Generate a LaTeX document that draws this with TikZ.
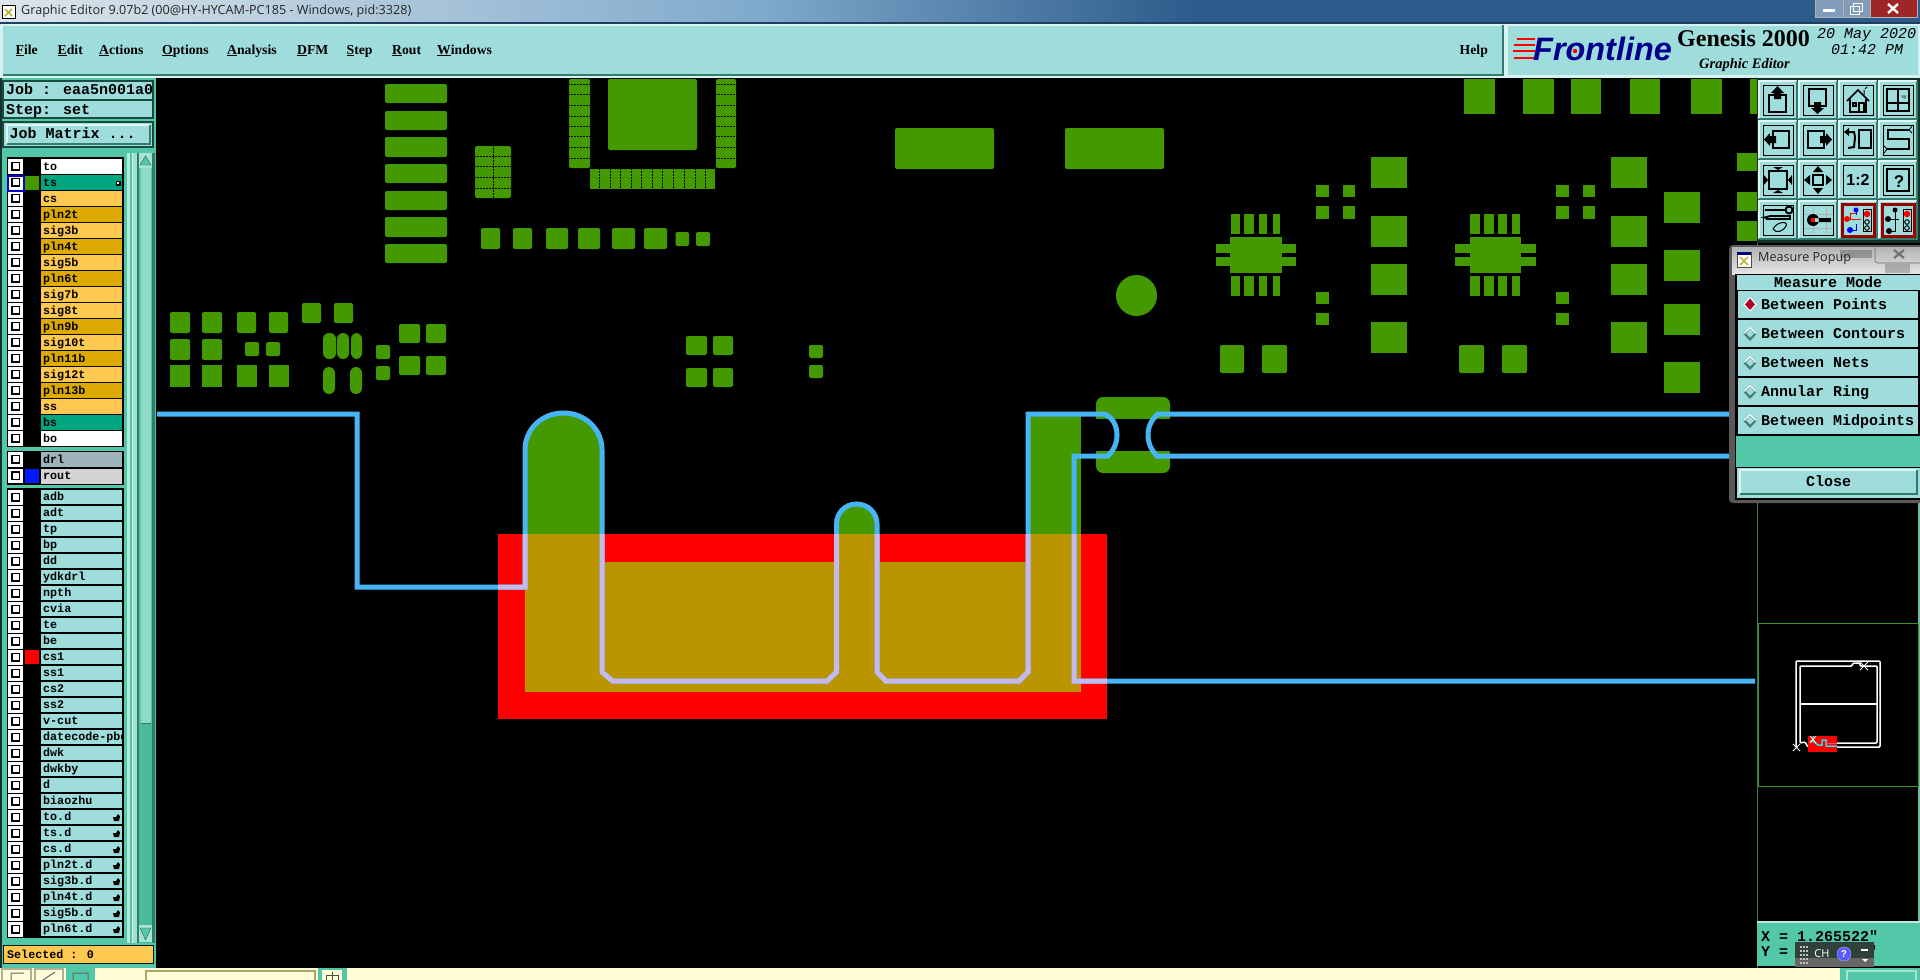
\documentclass[tikz,border=0pt]{standalone}
\usepackage{fontspec}
\setmainfont{Liberation Serif}
\newfontfamily\guimono{Liberation Mono}
\newfontfamily\guisans{Open Sans}
\newfontfamily\logosans{Liberation Sans}

\definecolor{guicyan}{HTML}{9FDCDC}
\definecolor{guiteal}{HTML}{52C8A8}
\definecolor{guidark}{HTML}{2F7D6A}
\definecolor{lyrwhite}{HTML}{FFFFFF}
\definecolor{lyrsold}{HTML}{00A680}
\definecolor{lyrsig}{HTML}{FFC850}
\definecolor{lyrpln}{HTML}{DCAA00}
\definecolor{lyrdrl}{HTML}{9FB3BB}
\definecolor{lyrrout}{HTML}{D4D4D4}
\definecolor{pcbgreen}{HTML}{459900}
\definecolor{pcbolive}{HTML}{BB9500}
\definecolor{traceblue}{HTML}{46B4F5}
\definecolor{tracelilac}{HTML}{C5B9EE}
\definecolor{paleyellow}{HTML}{FFFDD8}
\definecolor{barleft}{HTML}{DDE5EA}
\definecolor{barmid}{HTML}{7FAACC}
\definecolor{barright}{HTML}{2C5A8A}
\definecolor{minimapcyan}{HTML}{30D8E0}

\begin{document}
\begin{tikzpicture}[x=1pt,y=-1pt]

\tikzset{padsq/.style = {fill=pcbgreen},
         padrd/.style = {fill=pcbgreen, rounded corners=2pt},
         padov/.style = {fill=pcbgreen, rounded corners=6pt},
         pinsep/.style = {black, densely dotted, line width=0.5pt},
         trace/.style = {line width=5pt, line join=miter},
         menuitem/.style = {font=\bfseries\fontsize{13.7}{14}\selectfont, inner sep=0pt, anchor=base west},
         lyrtext/.style = {font=\guimono\bfseries\fontsize{11.7}{12}\selectfont, inner sep=0pt, anchor=base west},
         guitext/.style = {font=\guimono\bfseries\fontsize{15}{15}\selectfont, inner sep=0pt, anchor=base west},
         datetext/.style = {font=\guimono\itshape\fontsize{15}{15}\selectfont, inner sep=0pt, anchor=base west},
         iconline/.style = {black, line width=1.6pt},
         iconfill/.style = {fill=black}}

\def\bevel#1#2#3#4{
  \fill[guicyan] (#1,#2) rectangle (#3,#4);
  \draw[white!70!guicyan, line width=1.5pt] (#1,#4) -- (#1,#2) -- (#3,#2);
  \draw[guidark, line width=1.5pt] (#1,#4) -- (#3,#4) -- (#3,#2);
}
\def\iconbase{
  \bevel{0}{0}{38}{38}
  \draw[black, line width=1pt] (4,4) rectangle (34,34);
}

\useasboundingbox (0,0) rectangle (1920,980);
\fill[black] (0,0) rectangle (1920,980);

% title bar
\shade[left color=barleft, right color=barmid] (0,0) rectangle (760,22);
\shade[left color=barmid, right color=barright] (760,0) rectangle (1200,22);
\fill[barright] (1200,0) rectangle (1920,22);
\fill[barright!70!black] (0,22) rectangle (1920,24);
\fill[white] (2,5) rectangle (15,18);
\draw[black] (2,5) rectangle (15,18);
\draw[yellow!70!black, line width=1.5pt] (5,9) -- (12,16) (12,9) -- (5,16);
\node[font=\guisans\fontsize{12.6}{13}\selectfont, inner sep=0pt, anchor=west, text=black!85] (titletext) at (21,11) {Graphic Editor 9.07b2 (00@HY-HYCAM-PC185 - Windows, pid:3328)};
\fill[barright!60!white] (1815,0) rectangle (1870,17);
\fill[red!55!black!85!white] (1870,0) rectangle (1917,17);
\draw[white!70!black] (1815,0) -- (1815,17) -- (1917,17) -- (1917,0) (1843,0) -- (1843,17) (1870,0) -- (1870,17);
\fill[white] (1823,9) rectangle (1835,12);
\draw[white, line width=1pt] (1850,6) rectangle (1859,14) (1853,3) rectangle (1862,11);
\draw[white, line width=2.4pt] (1888,4) -- (1898,13) (1898,4) -- (1888,13);

% menu bar
\fill[white!60!guicyan] (0,24) rectangle (1920,78);
\fill[guicyan] (3,26) rectangle (1503,75);
\draw[guidark, line width=1.5pt] (3,75) -- (1503,75) -- (1503,25);
\fill[guicyan] (1508,26) rectangle (1918,75);
\foreach \xx/\first/\rest in {15.5/F/ile, 57.5/E/dit, 99/A/ctions, 162/O/ptions, 227/A/nalysis, 297/D/FM, 346.5/S/tep, 392/R/out, 437/W/indows}
  \node[menuitem] (menu\first\xx) at (\xx,54) {\underline{\first}\rest};
\node[menuitem] (menuhelp) at (1459.5,54) {Help};

% logo
\foreach \yy/\xx in {39/1517, 45/1514, 51/1513, 58/1514}
  \draw[red, line width=2pt] (\xx,\yy) -- (1535,\yy);
\node[font=\logosans\bfseries\itshape\fontsize{32.4}{33}\selectfont, text=blue!55!black, inner sep=0pt, anchor=center] (logofront) at (1602.5,49) {Frontline};
\fill[red] (1575,51) circle (2.2);
\node[font=\bfseries\fontsize{24}{24}\selectfont, inner sep=0pt, anchor=base west] (logogenesis) at (1677,46) {Genesis 2000};
\node[font=\bfseries\itshape\fontsize{14.5}{15}\selectfont, inner sep=0pt, anchor=base west] (logoeditor) at (1699,68) {Graphic Editor};
\node[datetext] (logodate) at (1817,38) {20 May 2020};
\node[datetext] (logotime) at (1831,54) {01:42 PM};

% left panel
\fill[guiteal] (0,78) rectangle (156,968);
\fill[black!60!guidark] (0,78) rectangle (2,968);
\fill[guicyan] (3,81) rectangle (153,118);
\draw[guidark!60!black, line width=1.2pt] (3,81) rectangle (153,100) (3,100) rectangle (153,118);
\node[guitext] (jobtext) at (6,94) {Job : eaa5n001a0};
\node[guitext] (steptext) at (6,114) {Step: set};
\fill[guicyan] (3,122) rectangle (153,147);
\draw[guidark!60!black, line width=1.2pt] (3,122) rectangle (153,147);
\bevel{7}{125}{150}{144}
\node[guitext] (matrixtext) at (9.5,138) {Job Matrix ...};

% layer groups
\fill[black] (7,157) rectangle (126,447);
\fill[black] (7,451) rectangle (124,485);
\fill[black] (7,488) rectangle (124,938);

\def\chkbox#1{
  \fill[white] (8,#1) rectangle (23,#1+14.5);
  \draw[black, line width=1.5pt] (12,#1+3.5) rectangle (19.5,#1+11);
}

\foreach \nm/\col [count=\ii from 0] in {to/lyrwhite, ts/lyrsold, cs/lyrsig, pln2t/lyrpln, sig3b/lyrsig, pln4t/lyrpln, sig5b/lyrsig, pln6t/lyrpln, sig7b/lyrsig, sig8t/lyrsig, pln9b/lyrpln, sig10t/lyrsig, pln11b/lyrpln, sig12t/lyrsig, pln13b/lyrpln, ss/lyrsig, bs/lyrsold, bo/lyrwhite}{
  \fill[\col] (41,159+16*\ii) rectangle (122,174+16*\ii);
  \chkbox{159+16*\ii}
  \node[lyrtext] (lyra\ii) at (43,170+16*\ii) {\nm};
}
\draw[blue!80!black, line width=2pt] (8,175.5) rectangle (23.5,190.5);
\fill[pcbgreen] (25,176) rectangle (39,190);
\fill[black] (115.5,180.5) rectangle (120.5,185.5);
\fill[white] (117,182) rectangle (119,184);

\foreach \nm/\col/\yy [count=\ii from 0] in {drl/lyrdrl/452, rout/lyrrout/468.5}{
  \fill[\col] (41,\yy) rectangle (122,\yy+15);
  \chkbox{\yy}
  \node[lyrtext] (lyrb\ii) at (43,\yy+11) {\nm};
}
\fill[blue!90!cyan] (25,469) rectangle (39,483);

\foreach \nm [count=\ii from 0] in {adb, adt, tp, bp, dd, ydkdrl, npth, cvia, te, be, cs1, ss1, cs2, ss2, v-cut, datecode-pbe, dwk, dwkby, d, biaozhu, to.d, ts.d, cs.d, pln2t.d, sig3b.d, pln4t.d, sig5b.d, pln6t.d}{
  \fill[guicyan] (41,490+16*\ii) rectangle (122,504+16*\ii);
  \chkbox{490+16*\ii}
  \node[lyrtext] (lyrc\ii) at (43,500.5+16*\ii) {\nm};
}
\fill[red] (25,650) rectangle (39,664);
\foreach \ii in {20,...,27}
  \fill[black] (113,497+16*\ii) -- (116,497+16*\ii) -- (118,494+16*\ii) -- (120,496+16*\ii) -- (119,501+16*\ii) -- (114,501+16*\ii) -- cycle;

% scroll bar
\fill[guiteal] (124,153) rectangle (156,943);
\fill[white!60!guiteal] (127,153) rectangle (130,943);
\fill[guiteal] (130,153) rectangle (132,943);
\fill[white!75!guiteal] (132,153) rectangle (133,943);
\fill[white!45!guiteal] (133,153) rectangle (137,943);
\fill[guidark] (137,153) rectangle (139,943);
\fill[guiteal!80!guidark] (139,723) rectangle (154,943);
\fill[guidark] (152,153) rectangle (155,943);
\fill[white!35!guiteal] (141,153) rectangle (151,723);
\draw[guidark] (141,723) -- (151,723);
\fill[white!50!guiteal] (139,153) -- (152,153) -- (152,168) -- (139,168) -- cycle;
\draw[guidark!80!black, fill=guiteal] (145.5,156) -- (151,165) -- (140,165) -- cycle;
\fill[white!50!guiteal] (139,925) rectangle (152,942);
\draw[guidark!80!black, fill=guiteal] (145.5,940) -- (151,928) -- (140,928) -- cycle;

% selected box
\fill[lyrsig] (3,945) rectangle (153,963);
\draw[black!80!guidark, line width=1pt] (3,945) rectangle (153,963);
\node[lyrtext] (selectedtext) at (7,958) {Selected : 0};

% bottom strip
\fill[paleyellow] (0,968) rectangle (1840,980);
\fill[guiteal] (66,968) rectangle (95,980);
\draw[black!30!paleyellow, line width=1.5pt] (2,980) -- (2,969) -- (31,969) -- (31,980) (35,980) -- (35,969) -- (63,969) -- (63,980);
\draw[black!60, line width=1pt] (11,980) -- (11,973) -- (24,973) (43,980) -- (55,972) (73,980) -- (73,973) -- (88,973) -- (88,980);
\draw[black!30!yellow!60!gray, line width=1.5pt] (146,980) -- (146,971) -- (315,971) -- (315,980);
\fill[guiteal] (318,968) rectangle (347,980);
\fill[paleyellow] (322,970) rectangle (342,980);
\draw[black!70, line width=1pt] (326,980) -- (326,975) -- (338,975) -- (338,980) (332,972) -- (332,980);
\fill[guiteal] (1840,968) rectangle (1920,980);
\draw[white!50!guiteal, line width=1.5pt] (1847,980) -- (1847,971) -- (1916,971) -- (1916,980);

% pcb pads, stack and ic
\foreach \ya/\yb in {84/103, 111/130, 137/157, 164/183, 191/210, 217/237, 244/263}
  \fill[padrd] (385,\ya) rectangle (447,\yb);
\fill[padrd] (475,146) rectangle (511,198);
\draw[pinsep] (493,146) -- (493,198);
\foreach \yy in {156,166,177,188}
  \draw[pinsep] (475,\yy) -- (511,\yy);
\fill[padrd] (569,79) rectangle (590,168);
\fill[padrd] (716,79) rectangle (736,168);
\fill[padsq] (590,169) rectangle (715,189);
\fill[padrd] (608,79) rectangle (697,150);
\foreach \yy in {84.3,94.7,105.3,116,126.3,136.7,147.3,158}{
  \draw[pinsep] (569,\yy) -- (590,\yy);
  \draw[pinsep] (716,\yy) -- (736,\yy);
}
\foreach \xx in {599,610,620.5,631,641.5,652,662.5,673,684,695,705.5}
  \draw[pinsep] (\xx,169) -- (\xx,189);

% pcb pads, rows
\foreach \xa/\xb in {481/500, 513/532, 546/568, 578/600, 612/635, 644/667}
  \fill[padrd] (\xa,228) rectangle (\xb,249);
\foreach \xa/\xb in {675.5/689, 696/710}
  \fill[padrd] (\xa,232) rectangle (\xb,246);
\foreach \xa/\xb in {170/190, 202/222, 237/256, 269/288}
  \fill[padrd] (\xa,312) rectangle (\xb,333);
\foreach \xa/\xb in {170/190, 202/222}
  \fill[padrd] (\xa,339) rectangle (\xb,360);
\foreach \xa/\xb in {245/259, 266/280}
  \fill[padrd] (\xa,342) rectangle (\xb,356);
\foreach \xa/\xb in {170/190, 202/222, 237/257, 269/289}
  \fill[padsq] (\xa,365) rectangle (\xb,387);
\foreach \xa/\xb in {302/321, 334/353}
  \fill[padrd] (\xa,303) rectangle (\xb,323);
\foreach \xa/\xb in {323/336, 337/349, 351/362}
  \fill[padov] (\xa,333) rectangle (\xb,359);
\foreach \xa/\xb in {323/335, 350/362}
  \fill[padov] (\xa,367) rectangle (\xb,394);
\foreach \ya/\yb in {345/359, 366/380}
  \fill[padrd] (376,\ya) rectangle (390,\yb);
\foreach \ya/\yb in {324/343, 356/375}{
  \fill[padrd] (399,\ya) rectangle (420,\yb);
  \fill[padrd] (426,\ya) rectangle (446,\yb);
}
\foreach \ya/\yb in {336/355, 368/387}{
  \fill[padrd] (686,\ya) rectangle (707,\yb);
  \fill[padrd] (713,\ya) rectangle (733,\yb);
}
\foreach \ya/\yb in {345/358, 365/378}
  \fill[padrd] (809,\ya) rectangle (823,\yb);
\fill[padrd] (895,128) rectangle (994,169);
\fill[padrd] (1065,128) rectangle (1164,169);
\fill[pcbgreen] (1136.5,295.5) circle (20.5);

% pcb pads, two qfn parts
\foreach \xa/\xb/\xc/\xd/\xe/\xf/\xg/\xh/\xl/\xm/\xn/\xr in {1231/1240/1244/1254/1259/1267/1272.5/1280/1216/1230/1282/1296, 1470/1480/1484/1494/1498/1507/1512/1520/1455/1470/1521/1536}{
  \fill[padsq] (\xm,237) rectangle (\xn,273);
  \foreach \ya/\yb in {214/234, 276/296}{
    \fill[padsq] (\xa,\ya) rectangle (\xb,\yb);
    \fill[padsq] (\xc,\ya) rectangle (\xd,\yb);
    \fill[padsq] (\xe,\ya) rectangle (\xf,\yb);
    \fill[padsq] (\xg,\ya) rectangle (\xh,\yb);
  }
  \foreach \ya/\yb in {244/253, 257/266}{
    \fill[padsq] (\xl,\ya) rectangle (\xm,\yb);
    \fill[padsq] (\xn,\ya) rectangle (\xr,\yb);
  }
}
\foreach \xa/\xb in {1316/1329, 1343/1355, 1556/1569, 1583/1595}
  \foreach \ya/\yb in {185/197, 206/219}
    \fill[padsq] (\xa,\ya) rectangle (\xb,\yb);
\foreach \xa/\xb in {1316/1329, 1556/1569}
  \foreach \ya/\yb in {292/304, 313/325}
    \fill[padsq] (\xa,\ya) rectangle (\xb,\yb);
\foreach \xa/\xb in {1371/1407, 1611/1647}
  \foreach \ya/\yb in {157/188, 216/247, 264/295, 322/353}
    \fill[padsq] (\xa,\ya) rectangle (\xb,\yb);
\foreach \ya/\yb in {192/223, 250/281, 304/335, 362/393}
  \fill[padsq] (1664,\ya) rectangle (1700,\yb);
\foreach \xa/\xb in {1220/1244, 1262/1287, 1459/1484, 1502/1527}
  \fill[padrd] (\xa,345) rectangle (\xb,373);
\foreach \xa/\xb in {1464/1495, 1523/1554, 1571/1601, 1630/1660, 1691/1722, 1750/1757}
  \fill[padsq] (\xa,79) rectangle (\xb,114);
\foreach \ya/\yb in {153/171, 192/211, 221/241}
  \fill[padsq] (1737,\ya) rectangle (1757,\yb);

% connector pads
\fill[padrd, rounded corners=7pt] (1096,397) rectangle (1170,425);
\fill[padrd, rounded corners=7pt] (1096,445) rectangle (1170,473);
\fill[black] (1096,419) rectangle (1170,451);

% fingers and red cs1 block
\fill[pcbgreen] (525,534) -- (525,450) .. controls (525,429) and (542,413) .. (563.5,413) .. controls (585,413) and (602,429) .. (602,450) -- (602,534) -- cycle;
\fill[pcbgreen] (836.5,534) -- (836.5,524) .. controls (836.5,513) and (845,504) .. (856.5,504) .. controls (868,504) and (877,513) .. (877,524) -- (877,534) -- cycle;
\fill[pcbgreen] (1028,414) rectangle (1081,534);
\fill[red] (498,534) rectangle (1107,719);
\fill[pcbolive] (525,562) rectangle (1081,692);
\fill[pcbolive] (525,534) rectangle (602,562);
\fill[pcbolive] (836.5,534) rectangle (877,562);
\fill[pcbolive] (1028,534) rectangle (1081,562);

% traces
\def\tracepath{(157,414) -- (357,414) -- (357,587) -- (525,587) -- (525,450) .. controls (525,429) and (542,413) .. (563.5,413) .. controls (585,413) and (602,429) .. (602,450) -- (602,672) -- (612.6,681) -- (827,681) -- (836.5,672) -- (836.5,524) .. controls (836.5,513) and (845,504) .. (856.5,504) .. controls (868,504) and (877,513) .. (877,524) -- (877,672) -- (886,681) -- (1019,681) -- (1028,672) -- (1028,414) -- (1105,414) .. controls (1113,418) and (1117,426) .. (1117,435) .. controls (1117,444) and (1113,451) .. (1108,456) -- (1074,456) -- (1074,681) -- (1755,681)}
\draw[traceblue, trace] \tracepath;
\begin{scope}
  \clip (498,534) rectangle (1107,719);
  \draw[tracelilac, trace] \tracepath;
\end{scope}
\draw[traceblue, trace] (1730,414) -- (1158,414) .. controls (1152,419) and (1148,426) .. (1148,435) .. controls (1148,444) and (1152,451) .. (1157,456) -- (1730,456);

% icon panel
\fill[black!60!guidark] (1757,78) rectangle (1920,243);
\foreach \row/\yy in {0/81, 1/121, 2/161, 3/201}
  \foreach \col/\xx in {0/1759, 1/1799, 2/1839, 3/1879}{
    \begin{scope}[shift={(\xx,\yy)}]
      \iconbase
    \end{scope}
  }

\begin{scope}[shift={(1759,81)}]
  \draw[iconline] (10,14) rectangle (27,31);
  \fill[iconfill] (12,12) -- (18.5,5) -- (25,12) -- (22,12) -- (22,18) -- (15,18) -- (15,12) -- cycle;
\end{scope}
\begin{scope}[shift={(1799,81)}]
  \draw[iconline] (10,8) rectangle (27,25);
  \fill[iconfill] (12,27) -- (18.5,33) -- (25,27) -- (22,27) -- (22,21) -- (15,21) -- (15,27) -- cycle;
\end{scope}
\begin{scope}[shift={(1839,81)}]
  \draw[iconline] (8,20) -- (19,9) -- (30,20) (11,18) -- (11,31) -- (27,31) -- (27,18) (20,22) rectangle (25,31) (14,22) rectangle (17,25);
  \draw[black, line width=1pt] (25,14) -- (25,9) (26,8) -- (28,6);
\end{scope}
\begin{scope}[shift={(1879,81)}]
  \draw[iconline] (8,8) rectangle (30,30) (19,8) -- (19,30) (8,22) -- (30,22);
  \node[font=\logosans\fontsize{5}{5}\selectfont, inner sep=0pt] (iconxy) at (25,17) {xy};
\end{scope}
\begin{scope}[shift={(1759,121)}]
  \draw[iconline] (14,10) rectangle (30,27);
  \fill[iconfill] (11,12) -- (5,18.5) -- (11,25) -- (11,22) -- (17,22) -- (17,15) -- (11,15) -- cycle;
\end{scope}
\begin{scope}[shift={(1799,121)}]
  \draw[iconline] (9,10) rectangle (25,27);
  \fill[iconfill] (27,12) -- (33,18.5) -- (27,25) -- (27,22) -- (21,22) -- (21,15) -- (27,15) -- cycle;
\end{scope}
\begin{scope}[shift={(1839,121)}]
  \draw[iconline] (20,9) rectangle (32,27);
  \draw[black, line width=2pt] (9,11) -- (15,11) -- (16,16) -- (15,26) -- (9,27);
  \fill[iconfill] (5,11) -- (10,7) -- (10,15) -- cycle;
\end{scope}
\begin{scope}[shift={(1879,121)}]
  \draw[iconline] (31,9) -- (9,9) -- (9,18) -- (30,18) -- (30,28) -- (8,28);
  \draw[black, line width=0.8pt] (33,5) -- (30,9) -- (33,12) (5,25) -- (8,28) -- (5,32);
\end{scope}
\begin{scope}[shift={(1759,161)}]
  \draw[iconline] (10,10) rectangle (28,28);
  \fill[iconfill] (14,6) -- (24,6) -- (19,9) -- cycle (14,32) -- (24,32) -- (19,29) -- cycle (5,14) -- (5,24) -- (9,19) -- cycle (33,14) -- (33,24) -- (29,19) -- cycle;
\end{scope}
\begin{scope}[shift={(1799,161)}]
  \draw[iconline] (14,14) rectangle (24,24);
  \fill[iconfill] (14,11) -- (24,11) -- (19,5) -- cycle (14,27) -- (24,27) -- (19,33) -- cycle (11,14) -- (11,24) -- (5,19) -- cycle (27,14) -- (27,24) -- (33,19) -- cycle;
\end{scope}
\begin{scope}[shift={(1839,161)}]
  \node[font=\logosans\bfseries\fontsize{16}{16}\selectfont, inner sep=0pt] (iconratio) at (19,19) {1:2};
\end{scope}
\begin{scope}[shift={(1879,161)}]
  \draw[black, line width=2pt] (8,8) rectangle (30,30);
  \node[font=\logosans\bfseries\fontsize{17}{17}\selectfont, inner sep=0pt] (iconhelp) at (20,21) {?};
\end{scope}
\begin{scope}[shift={(1759,201)}]
  \draw[iconline] (6,9) -- (26,9) (7,18) -- (31,18) -- (31,15) -- (11,15) -- (5,16.5) -- (11,18);
  \draw[black, line width=2pt] (30,9) circle (3.5);
  \draw[black, line width=1pt] (14,28) .. controls (18,20) and (30,20) .. (27,25) .. controls (25,30) and (17,33) .. (14,28);
\end{scope}
\begin{scope}[shift={(1799,201)}]
  \draw[black!30, line width=0.6pt] (5,13) -- (33,13) (5,27) -- (33,27) (14,5) -- (14,33) (27,5) -- (27,33);
  \fill[iconfill] (14,19) circle (6) (14,17) rectangle (32,21);
  \fill[red] (12,17) rectangle (16,21);
\end{scope}
\foreach \xx in {1839,1879}{
  \begin{scope}[shift={(\xx,201)}]
    \draw[red!60!black, line width=3pt] (3,3) rectangle (35,35);
    \draw[black, line width=1pt] (24,8) rectangle (32,30);
    \fill[red] (28,13) circle (3.3);
    \draw[black, line width=1pt] (28,21) circle (2.3) (28,27) circle (2.3);
  \end{scope}
}
\begin{scope}[shift={(1839,201)}]
  \draw[blue, line width=1pt] (17,8) -- (17,14) (11,29) -- (17,29) -- (17,23);
  \draw[red, line width=1pt] (8,18) -- (22,18) (11,18) -- (11,12) -- (17,12);
  \fill[blue] (17,9) circle (2.5) (11,29) circle (3);
  \fill[red] (8,18) circle (3);
\end{scope}
\begin{scope}[shift={(1879,201)}]
  \draw[black, line width=1pt] (16,8) -- (16,30) -- (10,30) (8,18) -- (20,18);
  \fill[iconfill] (16,9) circle (2.5) (10,30) circle (3) (9,18) circle (3);
\end{scope}

% navigator
\fill[black] (1758,503) rectangle (1920,922);
\draw[guidark, line width=1pt] (1757,243) -- (1757,968);
\fill[guicyan!60!guidark] (1918,503) rectangle (1920,922);
\draw[pcbgreen!70!guidark, line width=1pt] (1758.5,623) rectangle (1918,786);
\draw[white, line width=1.5pt, rounded corners=1pt] (1796,747) -- (1796,661) -- (1880,661) -- (1880,747) -- (1808,747) -- (1805,742) -- (1800,743) -- (1800,666) -- (1852,666) -- (1853,663) -- (1860,663) -- (1860,666) -- (1877,666) -- (1877,743) -- (1837,743);
\draw[white, line width=1.5pt] (1800,704) -- (1877,704);
\draw[white, line width=0.8pt] (1793,744) -- (1800,751) (1800,744) -- (1793,751) (1860,662) -- (1868,670) (1868,662) -- (1860,670);
\fill[red] (1808,736) rectangle (1837,752);
\draw[minimapcyan, line width=1.5pt] (1810,741) -- (1813,741) -- (1813,736) (1813,741) -- (1818,745) -- (1822,745) -- (1822,740) -- (1826,740) -- (1826,746) -- (1837,746);
\draw[white, line width=0.7pt] (1810,736) -- (1816,743) (1816,736) -- (1810,743);
\draw[red!70!white, line width=1pt] (1826,743) -- (1837,743);

% coordinates
\fill[guiteal] (1757,922) rectangle (1920,966);
\draw[white!60!guiteal, line width=1.2pt] (1757,922) -- (1920,922);
\node[guitext] (coordx) at (1761,941) {X = 1.265522"};
\node[guitext] (coordy) at (1761,956) {Y =};
\node[guitext] (coordyend) at (1868,956) {"};
\fill[black!70!guidark!70!gray] (1795,942) rectangle (1874,967);
\fill[black!60] (1795,958) rectangle (1874,967);
\foreach \xx in {1800,1803,1806}
  \foreach \yy in {946,950,954,958,962}
    \fill[black!25] (\xx,\yy) rectangle +(1.5,1.5);
\node[font=\guisans\fontsize{11}{11}\selectfont, text=white, inner sep=0pt] (imetext) at (1822,954) {CH};
\node[circle, fill=blue!65!white, draw=white!70!blue, text=white, font=\logosans\bfseries\fontsize{10}{10}\selectfont, inner sep=0pt, minimum size=14pt] (imehelp) at (1844,954) {?};
\fill[white] (1861,949) rectangle (1868,951);
\fill[white] (1862,959) -- (1868,959) -- (1865,962) -- cycle;

% measure popup
\fill[black!65, rounded corners=4pt] (1729,245) rectangle (1925,503);
\shade[top color=black!30!white, bottom color=black!10!white] (1732,247) rectangle (1920,274);
\fill[black!60, opacity=0.5] (1840,250) rectangle (1872,258);
\fill[black!60, opacity=0.4] (1885,264) rectangle (1910,273);
\fill[white] (1737,252) rectangle (1751,267);
\draw[black!70] (1737,252) rectangle (1751,267);
\fill[blue!50!black] (1737,252) rectangle (1751,255);
\draw[yellow!70!black, line width=1.5pt] (1740,257) -- (1748,265) (1748,257) -- (1740,265);
\node[font=\guisans\fontsize{12.6}{13}\selectfont, inner sep=0pt, anchor=west, text=black!85] (popuptitle) at (1758,259) {Measure Popup};
\draw[black!60, line width=0.6pt, rounded corners=3pt] (1875,246) -- (1875,263) -- (1920,263);
\draw[black!55, line width=2.2pt] (1894,250) -- (1904,258) (1904,250) -- (1894,258);

\fill[black] (1735,274) rectangle (1920,500);
\fill[guicyan] (1737,275) rectangle (1920,290);
\node[guitext] (popuphead) at (1774,287) {Measure Mode};
\foreach \yy/\txt [count=\ii] in {291/Between Points, 320/Between Contours, 349/Between Nets, 378/Annular Ring, 407/Between Midpoints}{
  \fill[guicyan] (1738,\yy) rectangle (1918,\yy+27);
  \fill[guidark!70!gray] (1743,\yy+13.5) -- (1750,\yy+6) -- (1757,\yy+13.5) -- (1750,\yy+21) -- cycle;
  \fill[white!70!guicyan] (1743,\yy+13.5) -- (1750,\yy+6) -- (1757,\yy+13.5) -- (1755,\yy+13.5) -- (1750,\yy+9) -- (1745,\yy+13.5) -- cycle;
  \fill[guicyan] (1746,\yy+13.5) -- (1750,\yy+9.5) -- (1754,\yy+13.5) -- (1750,\yy+17.5) -- cycle;
  \node[guitext] (popuprow\ii) at (1761,\yy+18) {\txt};
}
\fill[white] (1743,304.5) -- (1750,297) -- (1757,304.5) -- (1750,312) -- cycle;
\fill[red!80!blue!85!black] (1745,304.5) -- (1750,298.5) -- (1755,304.5) -- (1750,310) -- cycle;
\fill[guiteal] (1736,436) rectangle (1920,467);
\fill[guicyan] (1737,468) rectangle (1920,498);
\bevel{1740}{470}{1917}{494}
\node[guitext] (popupclose) at (1806,486) {Close};

\end{tikzpicture}
\end{document}
